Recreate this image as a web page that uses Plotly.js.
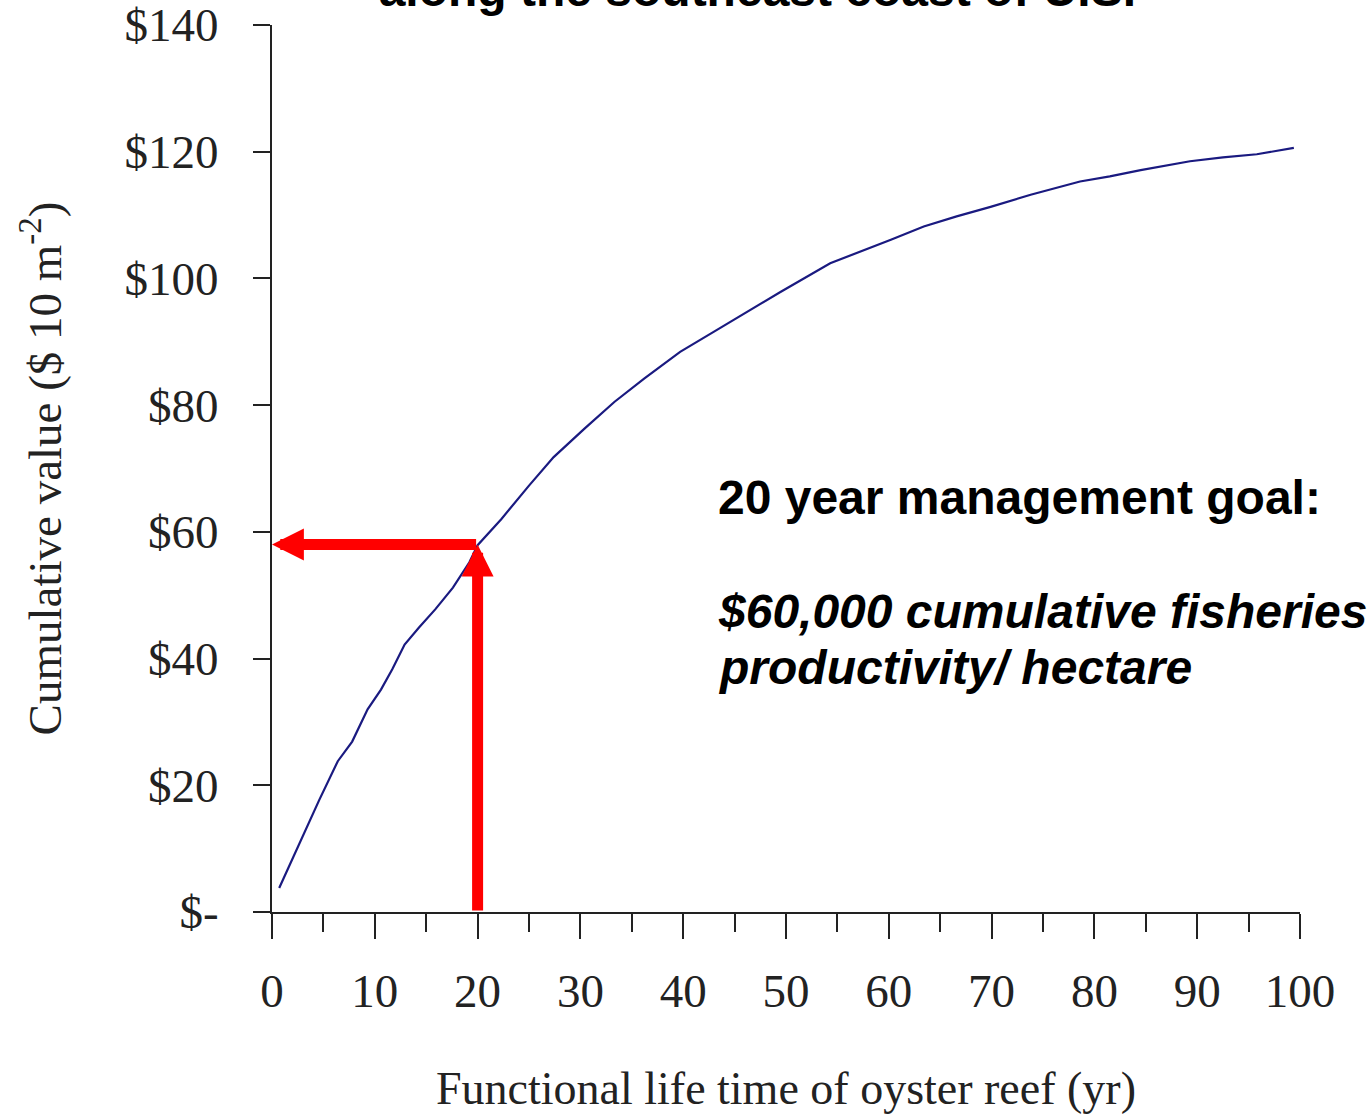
<!DOCTYPE html>
<html>
<head>
<meta charset="utf-8">
<script src="https://cdn.plot.ly/plotly-3.0.1.min.js"></script>
<style>html,body{margin:0;padding:0;background:#fff;}#chart{width:1372px;height:1114px;}</style>
</head>
<body>
<div id="chart"></div>
<script>
// Functional life time of oyster reef (yr)
var years = [0.7, 2.5, 3.6, 4.6, 6.4, 7.8, 9.3, 10.6, 11.7, 12.9, 14.3, 15.9, 17.6, 19.2, 20.0,
             22.3, 25.0, 27.4, 30.4, 33.3, 36.2, 39.7, 43.0, 46.2, 49.5, 54.3, 56.9, 60.2,
             63.4, 66.6, 69.9, 73.8, 78.6, 81.5, 84.5, 89.3, 92.5, 95.8, 99.4];
// Cumulative value ($ 10 m^-2)
var cumulativeValue = [3.8, 10.3, 14.0, 17.7, 23.8, 26.9, 32.0, 35.1, 38.3, 42.2, 44.9, 47.8, 51.2, 55.2, 57.9,
                       62.0, 67.3, 71.8, 76.3, 80.5, 84.2, 88.4, 91.6, 94.7, 97.9, 102.4, 104.0, 106.1,
                       108.2, 109.8, 111.3, 113.2, 115.3, 116.1, 117.1, 118.5, 119.1, 119.6, 120.6];

var yTickVals = [0, 20, 40, 60, 80, 100, 120, 140];
var yTickText = ["$-", "$20", "$40", "$60", "$80", "$100", "$120", "$140"];
var xTickVals = [0, 10, 20, 30, 40, 50, 60, 70, 80, 90, 100];

var goalYear = 20;
var goalValue = 58;

var titleText = "along the southeast coast of U.S.";
var xTitle = "Functional life time of oyster reef (yr)";
var yTitle = "Cumulative value ($ 10 m<sup>-2</sup>)";
var noteLines = ["<b>20 year management goal:</b>",
                 "<b><i>$60,000 cumulative fisheries</i></b>",
                 "<b><i>productivity/ hectare</i></b>"];
var noteY = [65.5, 47.5, 38.6];
var noteX = 43.2;

var serif = "Liberation Serif, Times New Roman, serif";
var sans = "Liberation Sans, Arial, Helvetica, sans-serif";
var axisCol = "#222222";

var trace = {
  x: years,
  y: cumulativeValue,
  type: "scatter",
  mode: "lines",
  line: {color: "#1a1a80", width: 2.2},
  hoverinfo: "skip",
  showlegend: false
};

var annotations = [
  {x: 0, y: goalValue, ax: goalYear, ay: goalValue, xref: "x", yref: "y", axref: "x", ayref: "y",
   text: "", showarrow: true, arrowhead: 2, arrowsize: 0.58, arrowwidth: 11, arrowcolor: "#ff0000", standoff: 0},
  {x: goalYear, y: goalValue, ax: goalYear, ay: 0, xref: "x", yref: "y", axref: "x", ayref: "y",
   text: "", showarrow: true, arrowhead: 2, arrowsize: 0.58, arrowwidth: 11, arrowcolor: "#ff0000", standoff: 0}
];
for (var i = 0; i < noteLines.length; i++) {
  annotations.push({
    x: noteX, y: noteY[i], xref: "x", yref: "y", xanchor: "left", yanchor: "middle",
    text: noteLines[i], showarrow: false, font: {family: sans, size: 48, color: "#000"}
  });
}

var layout = {
  width: 1372, height: 1114,
  margin: {l: 272, r: 72, t: 25, b: 202},
  paper_bgcolor: "#fff", plot_bgcolor: "#fff",
  title: {text: "<b>" + titleText + "</b>", font: {family: sans, size: 48, color: "#000"},
          xref: "container", x: 0.552, xanchor: "center", yref: "container", y: 0.995, yanchor: "bottom"},
  xaxis: {
    range: [0, 100], tickvals: xTickVals, showgrid: false, zeroline: false,
    showline: true, linecolor: axisCol, linewidth: 2,
    ticks: "outside", ticklen: 25, tickwidth: 2, tickcolor: axisCol,
    minor: {dtick: 5, tick0: 0, ticks: "outside", ticklen: 18, tickwidth: 2, tickcolor: axisCol},
    ticklabelstandoff: 12,
    ticklabeloverflow: "allow",
    tickfont: {family: serif, size: 47, color: axisCol},
    title: {text: xTitle, font: {family: serif, size: 46, color: axisCol}, standoff: 74},
    fixedrange: true
  },
  yaxis: {
    range: [0, 140], tickvals: yTickVals, ticktext: yTickText, showgrid: false, zeroline: false,
    showline: true, linecolor: axisCol, linewidth: 2,
    ticks: "outside", ticklen: 17, tickwidth: 2, tickcolor: axisCol,
    ticklabelstandoff: 25,
    ticklabeloverflow: "allow",
    tickfont: {family: serif, size: 47, color: axisCol},
    title: {text: yTitle, font: {family: serif, size: 47, color: axisCol}, standoff: 48},
    fixedrange: true
  },
  annotations: annotations
};

Plotly.newPlot("chart", [trace], layout, {staticPlot: true, displayModeBar: false});
</script>
</body>
</html>
